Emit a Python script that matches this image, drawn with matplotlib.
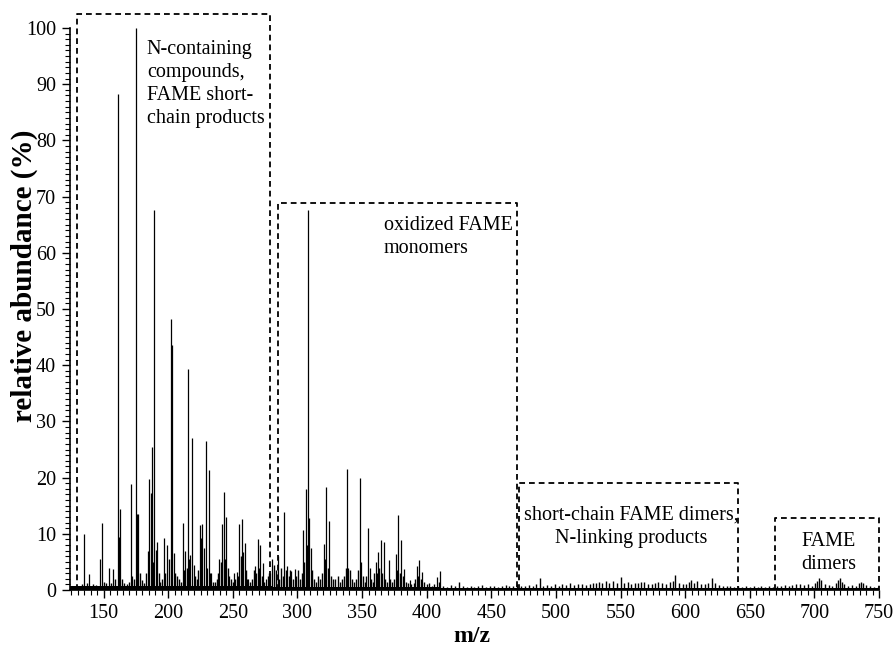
import matplotlib
matplotlib.use("Agg")
import matplotlib.pyplot as plt
from matplotlib.ticker import MultipleLocator

# main fragment peaks (m/z, relative abundance %)
peak_mz = [134.9, 138.8, 147.3, 149.1, 154.5, 157.6, 160.9, 162.0, 163.0, 171.1,
           172.3, 175.0, 176.0, 176.8, 184.0, 185.3, 186.4, 187.6, 189.1, 190.2,
           191.2, 196.9, 199.0, 201.8, 203.1, 204.3, 211.1, 213.2, 215.3, 217.1,
           218.4, 219.6, 224.3, 225.2, 226.4, 227.4, 228.9, 230.0, 231.8, 233.3,
           239.5, 241.9, 242.9, 243.4, 245.0, 247.3, 251.0, 253.0, 255.0, 257.1,
           258.1, 259.1, 262.0, 267.2, 269.2, 271.3, 273.4, 276.0, 279.0, 280.6,
           284.7, 289.9, 292.0, 295.3, 297.9, 304.1, 306.4, 308.0, 309.0, 310.3,
           320.4, 322.2, 324.6, 338.5, 339.5, 348.3, 349.4, 354.3, 355.8, 360.5,
           362.0, 364.6, 366.7, 370.5, 376.0, 378.0, 380.0, 382.7, 386.8, 392.2,
           394.0, 396.7, 408.3, 410.0]
peak_ab = [10.0, 2.8, 5.6, 12.0, 4.0, 3.8, 88.3, 9.5, 14.4, 18.8,
           2.5, 100.0, 13.5, 13.5, 7.0, 19.8, 17.2, 25.4, 67.6, 7.1,
           8.6, 9.2, 8.0, 48.2, 43.6, 6.5, 12.0, 6.9, 39.3, 6.2,
           27.0, 4.5, 11.6, 9.3, 11.8, 7.5, 26.6, 4.0, 21.3, 3.0,
           5.5, 11.8, 5.5, 17.5, 13.0, 2.5, 3.0, 3.2, 11.8, 12.6,
           6.8, 8.4, 2.0, 4.2, 9.0, 8.0, 4.8, 2.0, 3.0, 5.5,
           6.0, 13.8, 4.2, 3.3, 3.8, 10.7, 18.0, 67.6, 12.9, 7.4,
           8.1, 18.4, 12.2, 21.6, 4.0, 20.0, 5.0, 11.0, 4.0, 5.0,
           6.8, 8.9, 8.6, 5.3, 6.4, 13.3, 8.9, 3.8, 1.8, 4.3,
           5.3, 3.2, 2.3, 3.4]

# low-level signals filling the base of the spectrum
minor_mz = [126.5, 128, 131, 133, 137, 140, 142, 144, 150.5, 152, 156, 158.6,
            164.5, 166, 168, 169.5, 173.5, 178, 179.5, 181, 182.5, 188.2, 192.5,
            194, 195.5, 197.8, 200.3, 205.5, 207, 208.5, 210, 212.3, 214.3, 216.3,
            220.8, 222.5, 223.4, 232.5, 234.5, 236, 237.5, 238.6, 240.7, 244.3,
            246.2, 248.5, 250, 252, 254, 256.2, 260.2, 261.2, 263.5, 265, 266.2,
            268.2, 270.2, 272.4, 274.5, 277.5, 278.2, 281.6, 283.2, 286, 287.2,
            288.5, 291, 293.4, 294.5, 296.5, 299, 300.5, 302, 303.2, 305.3, 307.2,
            311.5, 313, 314.5, 316, 317.5, 319, 321.3, 323.4, 326, 327.5, 329, 331,
            333, 334.5, 336, 337.5, 340.5, 342, 344, 345.5, 347.2, 350.5, 352,
            353.2, 357, 358.5, 359.5, 361.3, 363.3, 365.6, 368, 369.5, 371.5, 373,
            374.5, 377, 379, 381.3, 384, 385.5, 388, 390, 391.2, 393.1, 395.3, 398,
            400, 402, 404, 406, 409.2,
            413, 416, 419, 422, 425, 428, 431, 434, 437, 440, 443, 446, 449, 452,
            455, 458, 461, 464, 467, 470, 473, 476, 479, 482, 484.5, 487.8, 490,
            493, 496, 499, 502, 505, 508, 511, 514, 517, 520, 523, 526, 528.5, 531,
            533.5, 536, 538.5, 541, 544.5, 547, 550.4, 553, 555.5, 558, 561, 563.5,
            566, 568.5, 571, 574, 576.5, 579, 582, 585, 588.5, 590.5, 592.5, 595,
            598, 601, 603, 604.7, 607, 609.3, 612, 615, 618, 620.7, 623, 626, 629,
            632, 635, 638, 641, 644, 647, 650, 653, 656, 659, 662, 665, 668, 671,
            674, 677, 680, 683, 686, 689, 692, 695, 698, 700.5, 702, 703.6, 705.5,
            708, 711, 714, 717, 718.5, 719.6, 721, 723, 726, 729, 732, 734.5,
            735.9, 737.5, 740, 743, 746, 749]
minor_ab = [0.8, 0.6, 0.7, 1.0, 1.2, 0.8, 1.0, 0.9, 1.5, 1.3, 1.2, 2.0,
            2.0, 1.2, 1.0, 1.5, 2.0, 3.0, 1.8, 1.2, 3.0, 5.0, 3.0,
            1.5, 2.0, 3.0, 5.5, 3.0, 2.5, 2.0, 1.5, 3.5, 4.0, 5.5,
            2.5, 2.0, 3.5, 3.0, 1.5, 1.5, 2.0, 3.0, 5.0, 5.5,
            4.0, 2.0, 1.5, 2.0, 2.5, 6.0, 3.5, 2.0, 1.5, 2.0, 3.5,
            3.0, 4.0, 2.5, 1.5, 2.5, 3.0, 4.5, 3.5, 2.0, 4.0,
            2.5, 3.5, 2.5, 3.5, 2.0, 2.5, 3.5, 2.0, 3.0, 5.0, 8.0,
            3.5, 2.0, 1.5, 2.5, 2.0, 3.0, 5.5, 4.0, 2.5, 2.0, 2.0, 2.5,
            1.5, 2.0, 2.5, 4.0, 3.5, 2.0, 1.5, 2.0, 3.5, 2.5, 1.5,
            2.5, 2.0, 1.5, 3.0, 3.0, 4.0, 3.0, 2.0, 1.5, 2.0, 1.5,
            2.0, 3.5, 3.0, 2.5, 1.5, 1.2, 1.0, 1.2, 2.0, 2.5, 2.0, 1.5,
            1.0, 1.2, 0.8, 1.0, 1.5,
            0.8, 0.6, 0.9, 0.7, 1.5, 0.7, 0.6, 0.8, 0.6, 0.7, 0.9, 0.6, 0.8, 0.7,
            0.6, 0.8, 0.9, 0.7, 0.8, 1.0, 0.8, 0.7, 0.9, 0.8, 1.0, 2.2, 0.8,
            0.9, 0.7, 1.0, 0.8, 1.1, 0.9, 1.2, 0.9, 1.0, 1.1, 0.9, 1.0, 1.2, 1.3,
            1.4, 1.3, 1.6, 1.2, 1.6, 1.3, 2.4, 1.2, 1.4, 1.1, 1.3, 1.2,
            1.5, 1.4, 1.0, 1.1, 1.3, 1.5, 1.2, 1.1, 1.4, 1.6, 2.7, 1.2,
            1.0, 1.1, 1.4, 1.8, 1.3, 1.6, 1.1, 1.0, 1.2, 2.1, 1.2, 0.9, 0.8,
            0.7, 0.8, 0.6, 0.7, 0.6, 0.8, 0.6, 0.7, 0.6, 0.8, 0.6, 0.7, 0.6, 0.8,
            0.7, 0.9, 0.8, 0.9, 1.1, 1.0, 0.9, 1.0, 0.8, 1.3, 1.6, 2.2, 1.7,
            1.0, 0.9, 0.8, 1.3, 1.8, 2.1, 1.4, 1.0, 0.8, 0.9, 0.8, 1.3,
            1.5, 1.2, 0.9, 0.7, 0.6, 0.5]

# unresolved baseline level (step edges in m/z)
base_mz = [124, 280, 410, 750]
base_ab = [0.7, 0.6, 0.35, 0.35]

# dashed region boxes: (m/z left, m/z right, top)
box_left = [129.2, 284.7, 471.6, 669.2]
box_right = [279.0, 469.8, 640.8, 750.1]
box_top = [102.5, 68.9, 19.0, 12.9]

box_text = ["N-containing\ncompounds,\nFAME short-\nchain products",
            "oxidized FAME\nmonomers",
            "short-chain FAME dimers,\nN-linking products",
            "FAME\ndimers"]
text_x = [183.4, 366.9, 558.5, 711.0]
text_y = [90.0, 62.8, 11.2, 6.6]
text_ha = ["left", "left", "center", "center"]

plt.rcParams['font.family'] = ['Liberation Serif', 'DejaVu Serif']

fig = plt.figure(figsize=(8.94, 6.56), dpi=100)
ax = fig.add_axes([70/894, 66/656, 809/894, 562/656])

# spectrum
ax.fill_between(base_mz, 0, base_ab, step='post', color='black', lw=0)
ax.vlines(minor_mz, 0, minor_ab, colors='black', lw=1.0)
ax.vlines(peak_mz, 0, peak_ab, colors='black', lw=0.9)

# region boxes
for l, r, t in zip(box_left, box_right, box_top):
    ax.plot([l, l, r, r], [0, t, t, 0], color='black', lw=1.3,
            linestyle=(0, (3.2, 2.2)), clip_on=False)

for s, x, y, ha in zip(box_text, text_x, text_y, text_ha):
    ax.text(x, y, s, ha=ha, va='center', fontsize=14.5, multialignment=ha,
            linespacing=1.3)

ax.set_xlim(124, 750)
ax.set_ylim(0, 100)
ax.xaxis.set_major_locator(MultipleLocator(50))
ax.xaxis.set_minor_locator(MultipleLocator(5))
ax.yaxis.set_major_locator(MultipleLocator(10))
ax.yaxis.set_minor_locator(MultipleLocator(1))
ax.tick_params(which='major', direction='out', length=6, width=1.0,
               labelsize=14.5, pad=4)
ax.tick_params(which='minor', direction='out', length=3.5, width=0.8)

ax.spines['top'].set_visible(False)
ax.spines['right'].set_visible(False)
ax.spines['left'].set_linewidth(1.2)
ax.spines['bottom'].set_linewidth(1.2)

fig.text(24/894, 1 - 276/656, 'relative abundance (%)', rotation=90,
         ha='center', va='center', fontsize=21, fontweight='bold')
fig.text(472/894, 1 - 636/656, 'm/z', ha='center', va='center',
         fontsize=17, fontweight='bold')

fig.savefig('out.png', dpi=100)
